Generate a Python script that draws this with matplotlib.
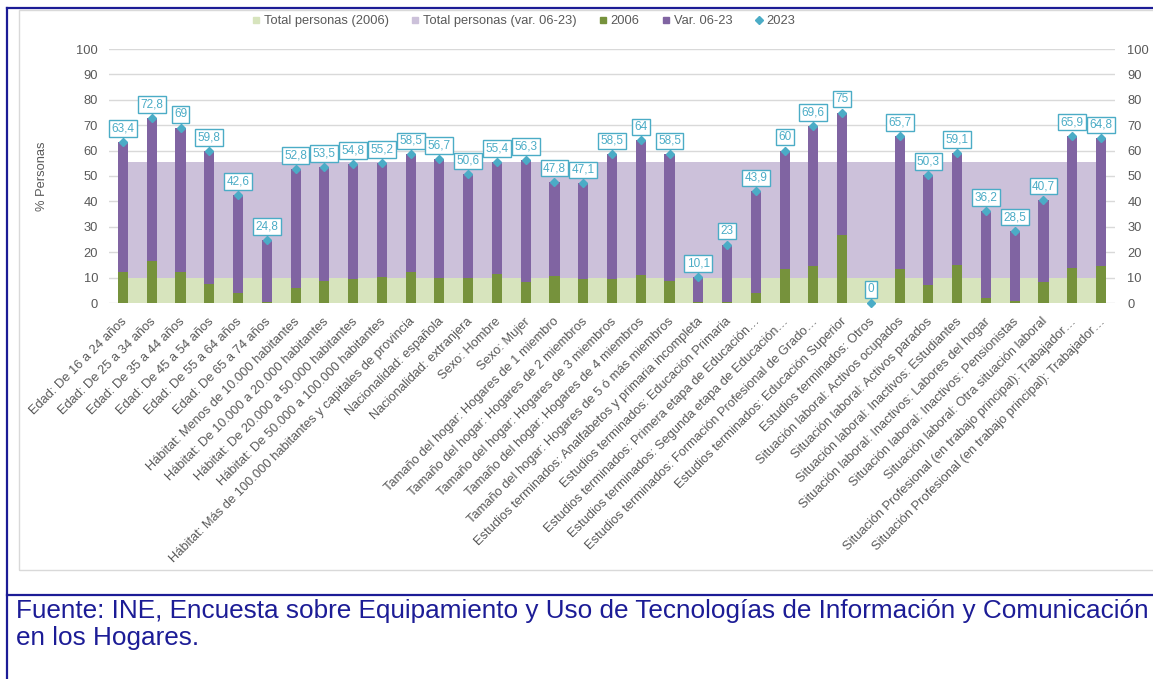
import matplotlib
matplotlib.use("Agg")
import matplotlib.pyplot as plt
from matplotlib.lines import Line2D
from matplotlib.patches import Rectangle
import matplotlib.transforms as mtransforms
import numpy as np

plt.rcParams['font.family'] = ['Liberation Sans', 'DejaVu Sans']

categories = [
    "Edad: De 16 a 24 años",
    "Edad: De 25 a 34 años",
    "Edad: De 35 a 44 años",
    "Edad: De 45 a 54 años",
    "Edad: De 55 a 64 años",
    "Edad: De 65 a 74 años",
    "Hábitat: Menos de 10.000 habitantes",
    "Hábitat: De 10.000 a 20.000 habitantes",
    "Hábitat: De 20.000 a 50.000 habitantes",
    "Hábitat: De 50.000 a 100.000 habitantes",
    "Hábitat: Más de 100.000 habitantes y capitales de provincia",
    "Nacionalidad: española",
    "Nacionalidad: extranjera",
    "Sexo: Hombre",
    "Sexo: Mujer",
    "Tamaño del hogar: Hogares de 1 miembro",
    "Tamaño del hogar: Hogares de 2 miembros",
    "Tamaño del hogar: Hogares de 3 miembros",
    "Tamaño del hogar: Hogares de 4 miembros",
    "Tamaño del hogar: Hogares de 5 ó más miembros",
    "Estudios terminados: Analfabetos y primaria incompleta",
    "Estudios terminados: Educación Primaria",
    "Estudios terminados: Primera etapa de Educación…",
    "Estudios terminados: Segunda etapa de Educación…",
    "Estudios terminados: Formación Profesional de Grado…",
    "Estudios terminados: Educación Superior",
    "Estudios terminados: Otros",
    "Situación laboral: Activos ocupados",
    "Situación laboral: Activos parados",
    "Situación laboral: Inactivos: Estudiantes",
    "Situación laboral: Inactivos: Labores del hogar",
    "Situación laboral: Inactivos: Pensionistas",
    "Situación laboral: Otra situación laboral",
    "Situación Profesional (en trabajo principal): Trabajador…",
    "Situación Profesional (en trabajo principal): Trabajador…",
]

values_2006 = [12.1, 16.4, 12.1, 7.6, 3.9, 0.4, 5.8, 8.5, 9.5, 10.3, 12.1, 10.0,
               9.9, 11.6, 8.2, 10.5, 9.5, 9.5, 11.0, 8.5, 0.2, 0.5, 3.9, 13.2,
               14.5, 26.6, 0.0, 13.4, 7.2, 14.9, 1.9, 0.7, 8.1, 13.6, 14.5]

values_2023 = [63.4, 72.8, 69, 59.8, 42.6, 24.8, 52.8, 53.5, 54.8, 55.2, 58.5, 56.7,
               50.6, 55.4, 56.3, 47.8, 47.1, 58.5, 64, 58.5, 10.1, 23, 43.9, 60,
               69.6, 75, 0, 65.7, 50.3, 59.1, 36.2, 28.5, 40.7, 65.9, 64.8]

total_2006 = [10.0, 10.0, 10.0, 10.0, 10.0, 10.0, 10.0, 10.0, 10.0, 10.0, 10.0, 10.0,
              10.0, 10.0, 10.0, 10.0, 10.0, 10.0, 10.0, 10.0, 10.0, 10.0, 10.0, 10.0,
              10.0, 10.0, 10.0, 10.0, 10.0, 10.0, 10.0, 10.0, 10.0, 10.0, 10.0]

total_2023 = [55.6, 55.6, 55.6, 55.6, 55.6, 55.6, 55.6, 55.6, 55.6, 55.6, 55.6, 55.6,
              55.6, 55.6, 55.6, 55.6, 55.6, 55.6, 55.6, 55.6, 55.6, 55.6, 55.6, 55.6,
              55.6, 55.6, 55.6, 55.6, 55.6, 55.6, 55.6, 55.6, 55.6, 55.6, 55.6]

yticks = [0, 10, 20, 30, 40, 50, 60, 70, 80, 90, 100]

C_BG_GREEN = '#d7e4bd'
C_BG_PURPLE = '#ccc1da'
C_GREEN = '#76923c'
C_PURPLE = '#8064a2'
C_TEAL = '#4bacc6'
C_TEXT = '#595959'
C_GRID = '#d9d9d9'
C_BLUE = '#1c1c96'

W, H = 1153, 679
fig = plt.figure(figsize=(W / 100, H / 100), dpi=100)


def fx(px):
    return px / W


def fy(py):
    return 1 - py / H


fig.add_artist(Rectangle((fx(19), fy(570)), fx(1170) - fx(19), fy(10) - fy(570),
                         transform=fig.transFigure, fill=False, edgecolor=C_GRID, lw=1.0))
fig.add_artist(Line2D([fx(7), fx(7)], [fy(8), fy(679)], transform=fig.transFigure, color=C_BLUE, lw=1.6))
fig.add_artist(Line2D([fx(7), 1], [fy(8), fy(8)], transform=fig.transFigure, color=C_BLUE, lw=1.6))
fig.add_artist(Line2D([fx(7), 1], [fy(595), fy(595)], transform=fig.transFigure, color=C_BLUE, lw=1.6))

left_px, right_px, top_px, bot_px = 108.6, 1115.4, 49, 303
ax = fig.add_axes([fx(left_px), fy(bot_px), fx(right_px) - fx(left_px), fy(top_px) - fy(bot_px)])

x = np.arange(len(categories))

ax.fill_between(x, 0, total_2006, color=C_BG_GREEN, lw=0, zorder=1)
ax.fill_between(x, total_2006, total_2023, color=C_BG_PURPLE, lw=0, zorder=1)

bw = 0.35
ax.bar(x, values_2023, width=bw, color=C_PURPLE, zorder=2)
ax.bar(x, values_2006, width=bw, color=C_GREEN, zorder=3)
ax.plot(x, values_2023, linestyle='none', marker='D', ms=4.2, color=C_TEAL, zorder=4, clip_on=False)


def fmt(v):
    if float(v).is_integer():
        return str(int(v))
    return (f"{v:.1f}").replace('.', ',')


for xi, v in zip(x, values_2023):
    ax.annotate(fmt(v), (xi, v), xytext=(0, 13.5), textcoords='offset pixels',
                ha='center', va='center', fontsize=8.5, color=C_TEAL, zorder=5,
                bbox=dict(boxstyle='square,pad=0.2', fc='white', ec=C_TEAL, lw=1.0),
                annotation_clip=False)

ax.set_xlim(-0.5, len(categories) - 0.5)
ax.set_ylim(0, 100)
ax.set_yticks(yticks)
ax.grid(axis='y', color=C_GRID, lw=1.0, zorder=0)
ax.set_axisbelow(True)
for s in ax.spines.values():
    s.set_visible(False)
ax.tick_params(axis='y', length=0, pad=7.5, labelsize=9.3, labelcolor=C_TEXT)
ax.tick_params(axis='x', length=0, pad=9, labelsize=9.3, labelcolor=C_TEXT)
ax.set_xticks(x)
ax.set_xticklabels(categories, rotation=45, ha='right', va='top', rotation_mode='anchor')
offset = mtransforms.ScaledTranslation(-2 / 100, 0, fig.dpi_scale_trans)
for lab in ax.get_xticklabels():
    lab.set_transform(lab.get_transform() + offset)

ax2 = ax.twinx()
ax2.set_ylim(0, 100)
ax2.set_yticks(yticks)
for s in ax2.spines.values():
    s.set_visible(False)
ax2.tick_params(axis='y', length=0, pad=8.5, labelsize=9.3, labelcolor=C_TEXT)

fig.text(fx(42), fy(176), '% Personas', rotation=90, ha='center', va='center',
         fontsize=9.3, color=C_TEXT)

handles = [
    Line2D([], [], linestyle='none', marker='s', ms=4.5, color=C_BG_GREEN),
    Line2D([], [], linestyle='none', marker='s', ms=4.5, color=C_BG_PURPLE),
    Line2D([], [], linestyle='none', marker='s', ms=4.5, color=C_GREEN),
    Line2D([], [], linestyle='none', marker='s', ms=4.5, color=C_PURPLE),
    Line2D([], [], linestyle='none', marker='D', ms=3.6, color=C_TEAL),
]
labels = ['Total personas (2006)', 'Total personas (var. 06-23)', '2006', 'Var. 06-23', '2023']
leg = fig.legend(handles, labels, loc='center', bbox_to_anchor=(fx(524), fy(21)), ncol=5,
                 frameon=False, fontsize=9.3, handlelength=0.5, handletextpad=0.35,
                 columnspacing=1.8, borderpad=0, borderaxespad=0)
for t in leg.get_texts():
    t.set_color(C_TEXT)

fig.text(fx(16), fy(618), 'Fuente: INE, Encuesta sobre Equipamiento y Uso de Tecnologías de Información y Comunicación',
         ha='left', va='baseline', fontsize=18.8, color=C_BLUE)
fig.text(fx(16), fy(645), 'en los Hogares.', ha='left', va='baseline', fontsize=18.8, color=C_BLUE)

fig.savefig('out.png', dpi=100)
